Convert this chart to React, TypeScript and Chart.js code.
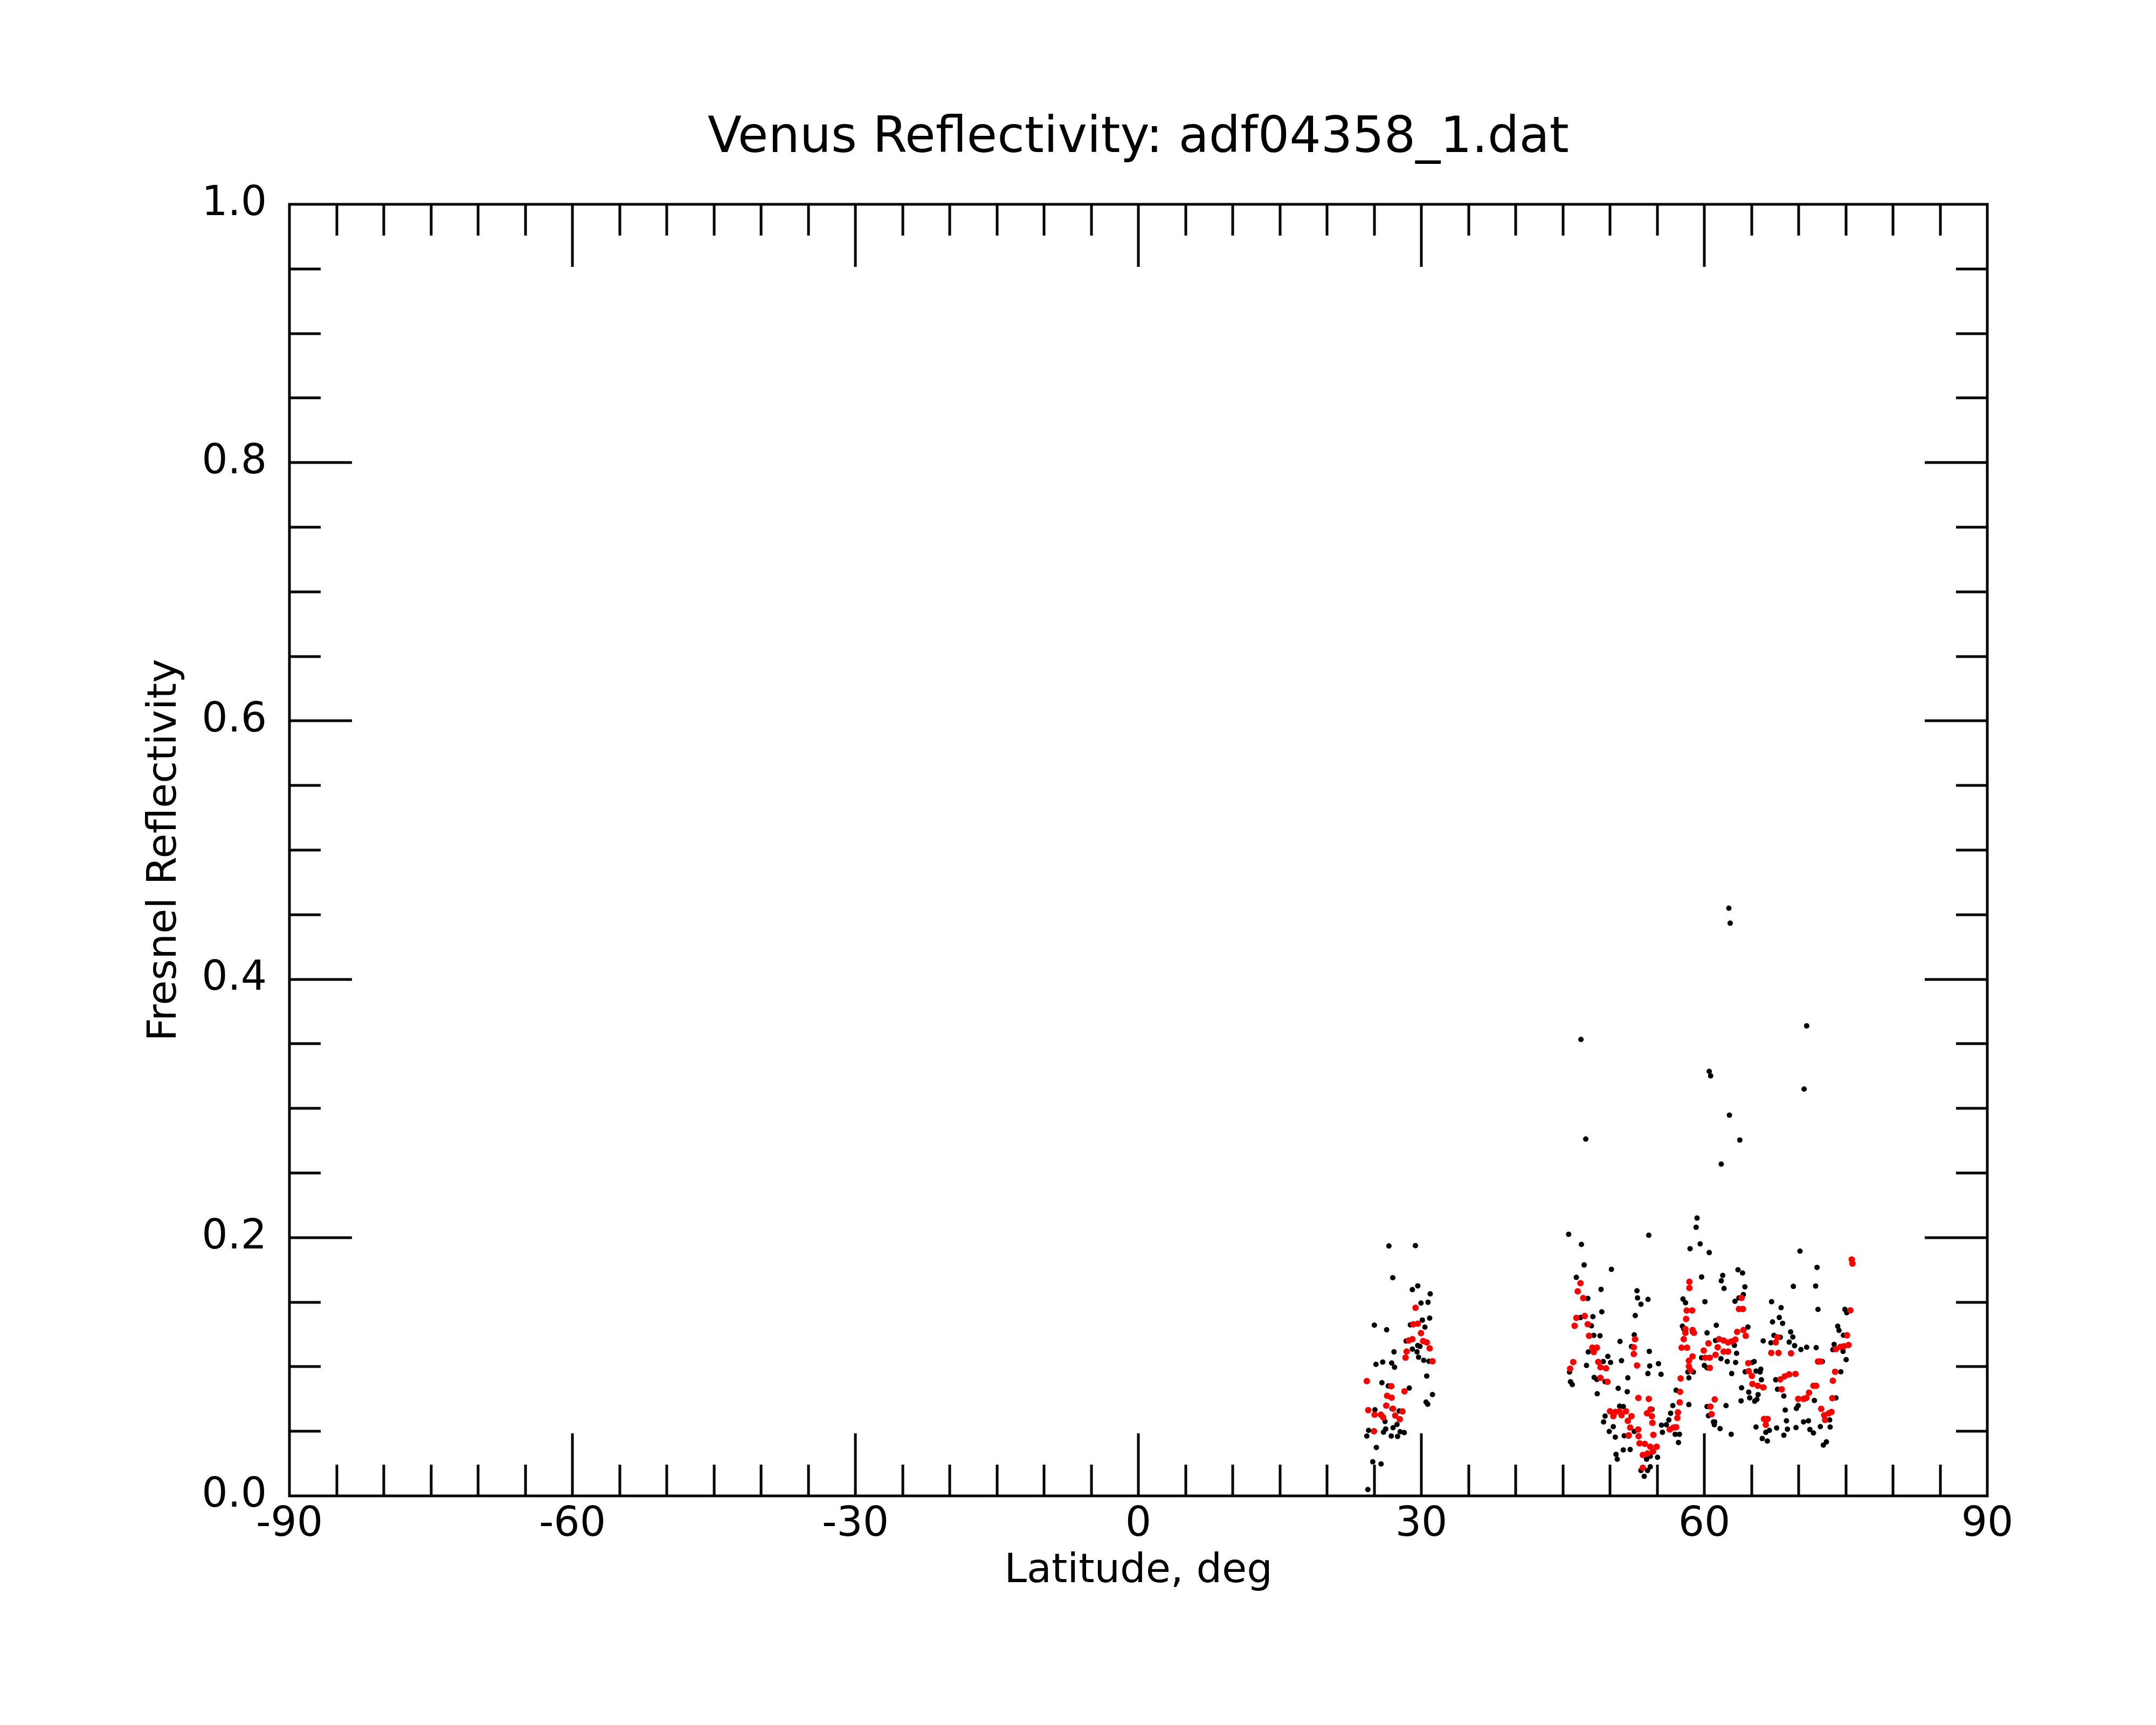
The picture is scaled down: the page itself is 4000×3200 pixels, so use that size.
import React, { useEffect, useRef } from "react";
import { Chart, registerables } from "chart.js";

Chart.register(...registerables);

const titleText = "Venus Reflectivity: adf04358_1.dat";
const xTitle = "Latitude, deg";
const yTitle = "Fresnel Reflectivity";

const xMin = -90;
const xMax = 90;
const xMajorStep = 30;
const xMinorStep = 5;
const yMin = 0;
const yMax = 1;
const yMajorStep = 0.2;
const yMinorStep = 0.05;

// Black points: individual measurements
const blackLat = [
  26.56, 29.37, 26.97, 29.05, 29.62, 30.94, 29.96, 30.71, 30.11, 30.88, 25.02, 26.32, 28.84, 30.38, 28.38, 29.62,
  29.85, 29.05, 29.54, 27.10, 29.71, 30.25, 30.80, 25.19, 25.90, 26.85, 27.16, 30.57, 25.82, 26.49, 28.72, 31.18,
  30.50, 30.67, 25.08, 27.65, 26.89, 26.15, 27.42, 27.00, 26.22, 24.41, 24.22, 25.99, 26.81, 27.48, 27.75, 28.19,
  25.23, 24.85, 25.73, 24.33,
  45.62, 46.97, 54.11, 59.23, 59.13, 59.56, 58.49, 60.52, 47.26, 50.15, 46.43, 49.05, 52.86, 52.92, 54.03, 53.28,
  47.64, 59.71, 57.74, 58.01, 60.06, 49.13, 52.68, 46.87, 48.19, 48.03, 48.28, 48.94, 57.68, 57.82, 58.75, 60.29,
  52.57, 51.06, 47.70, 54.17, 52.28, 49.77, 50.06, 49.29, 51.22, 47.51, 54.21, 55.14, 59.71, 60.00, 60.29, 45.71,
  46.00, 45.81, 51.89, 54.02, 55.41, 48.32, 48.61, 49.48, 48.65, 58.26, 58.36, 58.84, 50.87, 51.83, 57.01, 58.36,
  56.66, 51.02, 51.41, 49.48, 49.32, 54.46, 60.29, 60.44, 60.97, 61.06, 56.43, 56.24, 55.46, 55.98, 50.35, 49.92,
  50.56, 51.51, 55.56, 56.91, 57.36, 57.26, 51.41, 52.14, 50.64, 50.77, 53.88, 54.27, 55.04, 53.28, 53.63, 53.98,
  54.27, 52.57, 51.99,
  70.14, 71.95, 69.44, 71.80, 72.05, 63.57, 64.05, 61.95, 61.80, 62.09, 64.30, 64.14, 63.67, 63.25, 67.13, 68.14,
  67.95, 68.30, 67.23, 61.27, 64.62, 69.15, 69.38, 67.38, 68.05, 66.24, 67.06, 69.00, 69.57, 70.24, 70.85, 71.86,
  74.14, 74.28, 74.75, 74.90, 75.10, 73.76, 73.63, 74.71, 75.04, 61.19, 61.38, 63.19, 63.42, 61.76, 62.43, 63.32,
  62.90, 65.10, 65.29, 64.33, 65.48, 65.99, 65.91, 66.05, 63.95, 64.71, 64.81, 65.70, 65.57, 65.34, 63.90, 66.33,
  67.57, 67.76, 68.43, 72.52, 74.47, 73.95, 71.67, 62.30, 69.76, 69.95, 68.58, 61.10, 61.67, 62.85, 65.48, 68.71,
  70.52, 71.04, 67.67, 68.81, 69.72, 71.19, 71.57, 68.43, 72.30, 73.34, 73.29, 66.52, 66.90, 66.14, 66.68, 72.62,
  72.94,
  62.60, 62.74, 70.85, 46.92, 60.52, 60.67, 70.58, 62.66, 63.76, 61.79, 47.43,
];

const blackRefl = [
  0.1935, 0.1938, 0.1689, 0.1597, 0.1626, 0.1564, 0.1493, 0.1499, 0.1361, 0.1376, 0.1322, 0.1286, 0.1324, 0.1306, 0.1199, 0.1164,
  0.1157, 0.1136, 0.1115, 0.1115, 0.1074, 0.1050, 0.1042, 0.1018, 0.1036, 0.1029, 0.0996, 0.0928, 0.0876, 0.0851, 0.0835, 0.0785,
  0.0726, 0.0710, 0.0667, 0.0657, 0.0674, 0.0576, 0.0553, 0.0528, 0.0518, 0.0507, 0.0463, 0.0494, 0.0463, 0.0460, 0.0497, 0.0490,
  0.0375, 0.0264, 0.0247, 0.0049,
  0.2025, 0.1947, 0.2018, 0.2151, 0.2080, 0.1951, 0.1914, 0.1884, 0.1788, 0.1754, 0.1692, 0.1599, 0.1588, 0.1533, 0.1521, 0.1484,
  0.1529, 0.1695, 0.1524, 0.1495, 0.1504, 0.1425, 0.1396, 0.1381, 0.1388, 0.1317, 0.1243, 0.1240, 0.1314, 0.1292, 0.1270, 0.1262,
  0.1247, 0.1196, 0.1114, 0.1119, 0.1156, 0.1080, 0.1033, 0.1040, 0.1047, 0.1010, 0.1006, 0.1024, 0.1070, 0.1010, 0.0991, 0.0959,
  0.0862, 0.0884, 0.0914, 0.0947, 0.0941, 0.0917, 0.0902, 0.0884, 0.0791, 0.0959, 0.0914, 0.0959, 0.0833, 0.0807, 0.0818, 0.0707,
  0.0699, 0.0695, 0.0692, 0.0618, 0.0573, 0.0670, 0.0692, 0.0621, 0.0573, 0.0551, 0.0640, 0.0588, 0.0548, 0.0551, 0.0536, 0.0499,
  0.0455, 0.0465, 0.0492, 0.0477, 0.0477, 0.0413, 0.0356, 0.0359, 0.0321, 0.0284, 0.0284, 0.0307, 0.0299, 0.0196, 0.0151, 0.0196,
  0.0225, 0.0499, 0.0462,
  0.1895, 0.1769, 0.1622, 0.1625, 0.1444, 0.1751, 0.1726, 0.1707, 0.1665, 0.1606, 0.1618, 0.1559, 0.1533, 0.1507, 0.1504, 0.1458,
  0.1381, 0.1336, 0.1347, 0.1321, 0.1307, 0.1270, 0.1230, 0.1243, 0.1228, 0.1200, 0.1185, 0.1191, 0.1163, 0.1133, 0.1151, 0.1148,
  0.1314, 0.1281, 0.1244, 0.1444, 0.1418, 0.1173, 0.1132, 0.1119, 0.1055, 0.1203, 0.1151, 0.1166, 0.1104, 0.1062, 0.1040, 0.1033,
  0.0947, 0.1033, 0.1040, 0.0961, 0.0966, 0.0981, 0.0959, 0.0899, 0.0837, 0.0803, 0.0759, 0.0784, 0.0747, 0.0733, 0.0736, 0.0840,
  0.0899, 0.0825, 0.0773, 0.1040, 0.0961, 0.0759, 0.0739, 0.0699, 0.0677, 0.0699, 0.0665, 0.0573, 0.0521, 0.0477, 0.0533, 0.0581,
  0.0573, 0.0581, 0.0526, 0.0517, 0.0529, 0.0514, 0.0487, 0.0470, 0.0536, 0.0533, 0.0588, 0.0492, 0.0507, 0.0444, 0.0425, 0.0393,
  0.0418,
  0.455, 0.4434, 0.3639, 0.3534, 0.3287, 0.3252, 0.3150, 0.2948, 0.2755, 0.2569, 0.2763,
];

// Red points: averaged values
const redLat = [
  29.39, 29.14, 29.62, 29.96, 28.66, 29.05, 30.19, 30.57, 30.88, 28.44, 28.32, 31.18, 24.22, 26.81, 28.21, 26.37,
  26.85, 26.28, 27.00, 24.37, 25.04, 25.71, 25.95, 27.23, 28.00, 27.71, 24.98,
  46.87, 46.58, 47.16, 46.43, 47.32, 46.25, 47.64, 47.78, 48.13, 48.61, 48.28, 46.10, 45.77, 48.76, 48.99, 49.58,
  48.99, 49.73, 52.66, 52.52, 52.52, 52.86, 58.42, 58.42, 58.13, 58.71, 58.07, 57.99, 57.99, 58.75, 58.90, 57.82,
  57.59, 58.17, 60.44, 59.94, 60.10, 60.58, 58.36, 58.75, 58.36, 58.55, 60.58, 57.49, 57.43, 57.39, 57.20, 57.14,
  56.72, 56.33, 57.01, 60.77, 60.64, 53.01, 54.11, 54.30, 53.92, 54.44, 54.50, 54.60, 50.00, 50.58, 51.02, 51.70,
  50.35, 51.22, 52.28, 51.89, 52.14, 51.99, 52.99, 53.03, 53.13, 53.48, 53.48, 53.69, 54.27, 54.94, 53.98, 54.56,
  75.63, 75.70, 75.48, 75.13, 73.95, 74.43, 74.81, 75.29, 63.95, 63.67, 64.09, 63.48, 64.14, 64.39, 61.57, 62.05,
  62.52, 62.90, 63.29, 61.42, 61.19, 62.05, 62.52, 67.57, 67.76, 67.10, 67.86, 69.19, 72.05, 72.33, 64.66, 64.71,
  65.04, 65.10, 65.67, 66.24, 68.05, 68.52, 69.00, 69.67, 68.20, 71.57, 71.86, 71.10, 69.95, 70.52, 70.81, 73.86,
  73.63, 73.57, 61.10, 72.39, 72.71, 73.19, 73.48, 72.81, 66.33, 66.71, 66.52,
];

const redRefl = [
  0.1457, 0.1328, 0.1333, 0.1260, 0.1203, 0.1213, 0.1199, 0.1188, 0.1143, 0.1118, 0.1071, 0.1042, 0.0889, 0.0849, 0.0810, 0.0775,
  0.0761, 0.0699, 0.0675, 0.0664, 0.0629, 0.0629, 0.0608, 0.0622, 0.0654, 0.0594, 0.0501,
  0.1647, 0.1584, 0.1532, 0.1378, 0.1393, 0.1317, 0.1329, 0.1240, 0.1148, 0.1148, 0.1114, 0.1036, 0.0985, 0.1037, 0.0996, 0.0988,
  0.0914, 0.0884, 0.1213, 0.1151, 0.1099, 0.1010, 0.1658, 0.1610, 0.1436, 0.1436, 0.1370, 0.1292, 0.1262, 0.1284, 0.1262, 0.1213,
  0.1148, 0.1148, 0.1181, 0.1126, 0.1070, 0.1070, 0.1047, 0.1080, 0.1003, 0.0973, 0.0991, 0.0910, 0.0806, 0.0724, 0.0647, 0.0603,
  0.0529, 0.0514, 0.0532, 0.0633, 0.0692, 0.0759, 0.0751, 0.0670, 0.0640, 0.0618, 0.0566, 0.0473, 0.0655, 0.0650, 0.0655, 0.0655,
  0.0618, 0.0625, 0.0618, 0.0581, 0.0529, 0.0470, 0.0514, 0.0462, 0.0407, 0.0317, 0.0218, 0.0403, 0.0381, 0.0381, 0.0329, 0.0344,
  0.1830, 0.1799, 0.1437, 0.1244, 0.1136, 0.1154, 0.1159, 0.1169, 0.1533, 0.1447, 0.1447, 0.1270, 0.1284, 0.1240, 0.1213, 0.1203,
  0.1188, 0.1196, 0.1210, 0.1151, 0.1092, 0.1117, 0.1117, 0.1188, 0.1228, 0.1107, 0.1107, 0.1104, 0.1040, 0.1040, 0.1028, 0.0966,
  0.0929, 0.0867, 0.0852, 0.0840, 0.0902, 0.0926, 0.0941, 0.0944, 0.0825, 0.0852, 0.0852, 0.0799, 0.0751, 0.0751, 0.0759, 0.0961,
  0.0892, 0.0756, 0.0747, 0.0674, 0.0625, 0.0640, 0.0650, 0.0588, 0.0596, 0.0596, 0.0551,
];

const FONT = "'DejaVu Sans', 'Liberation Sans', sans-serif";

const frameAndTicks = {
  id: "frameAndTicks",
  afterDraw(chart: any) {
    const { ctx, chartArea } = chart;
    const { left, right, top, bottom } = chartArea;
    const xs = chart.scales.x;
    const ys = chart.scales.y;
    const majorLen = 116;
    const minorLen = 58;
    ctx.save();
    ctx.strokeStyle = "#000";
    ctx.lineWidth = 5;
    ctx.lineCap = "butt";
    ctx.beginPath();
    for (let v = xMin + xMinorStep; v < xMax - 1e-9; v += xMinorStep) {
      const px = Math.round(xs.getPixelForValue(v));
      const isMajor = Math.abs(Math.round(v / xMajorStep) * xMajorStep - v) < 1e-6;
      const len = isMajor ? majorLen : minorLen;
      ctx.moveTo(px, bottom);
      ctx.lineTo(px, bottom - len);
      ctx.moveTo(px, top);
      ctx.lineTo(px, top + len);
    }
    for (let i = 1; i < Math.round((yMax - yMin) / yMinorStep); i++) {
      const v = yMin + i * yMinorStep;
      const py = Math.round(ys.getPixelForValue(v));
      const isMajor = i % Math.round(yMajorStep / yMinorStep) === 0;
      const len = isMajor ? majorLen : minorLen;
      ctx.moveTo(left, py);
      ctx.lineTo(left + len, py);
      ctx.moveTo(right, py);
      ctx.lineTo(right - len, py);
    }
    ctx.stroke();
    ctx.strokeRect(left, top, right - left, bottom - top);

    ctx.fillStyle = "#000";
    ctx.textBaseline = "alphabetic";
    ctx.textAlign = "center";
    ctx.font = `92px ${FONT}`;
    ctx.fillText(titleText, (left + right) / 2, 282);

    ctx.font = `75px ${FONT}`;
    ctx.fillText(xTitle, (left + right) / 2, 2935);

    ctx.translate(326, (top + bottom) / 2);
    ctx.rotate(-Math.PI / 2);
    ctx.fillText(yTitle, 0, 0);
    ctx.restore();
  },
};

export default function App() {
  const canvasRef = useRef<HTMLCanvasElement | null>(null);

  useEffect(() => {
    document.body.style.margin = "0";
    const canvas = canvasRef.current;
    if (!canvas) return;
    const blackPts = blackLat.map((x, i) => ({ x, y: blackRefl[i] }));
    const redPts = redLat.map((x, i) => ({ x, y: redRefl[i] }));
    const chart = new Chart(canvas, {
      type: "scatter",
      data: {
        datasets: [
          {
            label: "average",
            data: redPts,
            backgroundColor: "#ff0000",
            borderWidth: 0,
            pointRadius: 6,
            pointHoverRadius: 6,
          },
          {
            label: "samples",
            data: blackPts,
            backgroundColor: "#000000",
            borderWidth: 0,
            pointRadius: 5,
            pointHoverRadius: 5,
          },
        ],
      },
      options: {
        animation: false,
        responsive: false,
        devicePixelRatio: 1,
        events: [],
        layout: { padding: { left: 0, right: 313, top: 379, bottom: 0 } },
        plugins: {
          legend: { display: false },
          title: { display: false },
          tooltip: { enabled: false },
        },
        scales: {
          x: {
            type: "linear",
            min: xMin,
            max: xMax,
            grid: { display: false, drawTicks: false },
            border: { display: false },
            ticks: {
              stepSize: xMajorStep,
              color: "#000",
              font: { family: FONT, size: 76 },
              padding: 9,
              maxRotation: 0,
              autoSkip: false,
            },
            afterFit: (s: any) => {
              s.height = 425;
            },
          },
          y: {
            type: "linear",
            min: yMin,
            max: yMax,
            grid: { display: false, drawTicks: false },
            border: { display: false },
            ticks: {
              stepSize: yMajorStep,
              color: "#000",
              font: { family: FONT, size: 76 },
              padding: 42,
              callback: (v: any) => Number(v).toFixed(1),
            },
            afterFit: (s: any) => {
              s.width = 537;
            },
          },
        },
      },
      plugins: [frameAndTicks],
    });
    return () => chart.destroy();
  }, []);

  return (
    <div style={{ width: 4000, height: 3200, background: "#fff" }}>
      <canvas ref={canvasRef} width={4000} height={3200} style={{ width: 4000, height: 3200, display: "block" }} />
    </div>
  );
}
